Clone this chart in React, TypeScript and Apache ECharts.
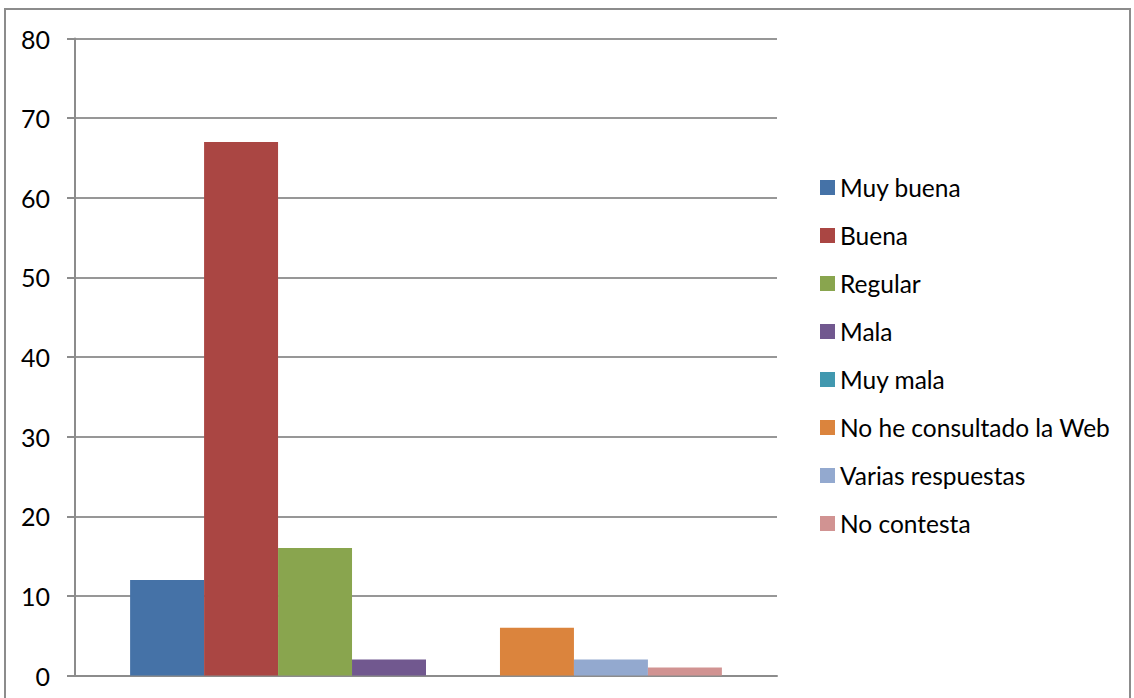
import React, { useEffect, useRef } from "react";
import * as echarts from "echarts";

const categories = ["Total"];
const seriesNames = [
  "Muy buena",
  "Buena",
  "Regular",
  "Mala",
  "Muy mala",
  "No he consultado la Web",
  "Varias respuestas",
  "No contesta",
];
const seriesValues = [12, 67, 16, 2, 0, 6, 2, 1];
const seriesColors = [
  "#4572A7",
  "#AA4643",
  "#89A54E",
  "#71588F",
  "#4198AF",
  "#DB843D",
  "#93A9CF",
  "#D19392",
];
const yTicks = { min: 0, max: 80, interval: 10 };

const FONT = "Lato, 'Open Sans', sans-serif";

export default function App() {
  const ref = useRef<HTMLDivElement>(null);
  useEffect(() => {
    if (!ref.current) return;
    const chart = echarts.init(ref.current, null, { renderer: "svg" });
    chart.setOption({
      animation: false,
      backgroundColor: "#ffffff",
      textStyle: { fontFamily: FONT },
      grid: { left: 75, right: 357, top: 38.5, bottom: 22.5, containLabel: false },
      graphic: [
        {
          type: "rect",
          shape: { x: 5, y: 9, width: 1125, height: 720 },
          style: { fill: "none", stroke: "#8c8c8c", lineWidth: 2 },
          silent: true,
          z: -10,
        },
      ],
      legend: {
        orient: "vertical",
        left: 820,
        top: 175,
        padding: 0,
        icon: "rect",
        itemWidth: 15,
        itemHeight: 15,
        itemGap: 23,
        textStyle: { fontSize: 24.5, lineHeight: 24, color: "#000", fontFamily: FONT },
        data: seriesNames,
      },
      xAxis: {
        type: "category",
        data: categories,
        axisLine: { show: true, lineStyle: { color: "#8c8c8c", width: 2 } },
        axisTick: { show: false },
        axisLabel: { show: false },
        splitLine: { show: false },
      },
      yAxis: {
        type: "value",
        min: yTicks.min,
        max: yTicks.max,
        interval: yTicks.interval,
        axisLine: { show: true, lineStyle: { color: "#8c8c8c", width: 2 } },
        axisTick: { show: true, length: 8, lineStyle: { color: "#8c8c8c", width: 2 } },
        axisLabel: { fontSize: 25, color: "#000", margin: 25, fontFamily: FONT },
        splitLine: { show: true, lineStyle: { color: "#979797", width: 2 } },
      },
      series: seriesNames.map((name, i) => ({
        name,
        type: "bar",
        data: [seriesValues[i]],
        itemStyle: { color: seriesColors[i] },
        barGap: "0%",
        barCategoryGap: "15.7%",
      })),
    });
    return () => chart.dispose();
  }, []);
  return (
    <div
      ref={ref}
      style={{ position: "absolute", left: 0, top: 0, width: 1134, height: 698 }}
    />
  );
}
